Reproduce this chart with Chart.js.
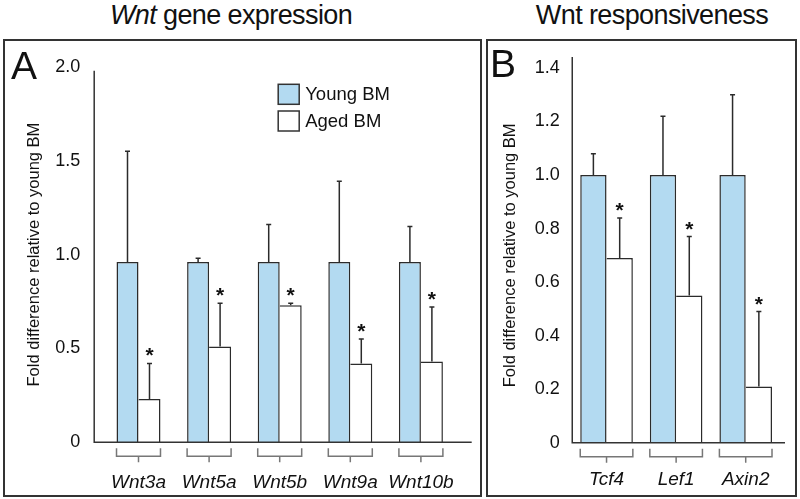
<!DOCTYPE html>
<html>
<head>
<meta charset="utf-8">
<script src="https://cdn.jsdelivr.net/npm/chart.js@4.4.0/dist/chart.umd.min.js"></script>
<style>
body { margin: 0; background: #fff; font-family: "Liberation Sans", Arial, sans-serif; }
#pagina { position: relative; width: 800px; height: 499px; overflow: hidden; }
.titulo { position: absolute; top: 2px; width: 300px; font-size: 27px; line-height: 27px; letter-spacing: -0.6px; color: #111; text-align: center; white-space: nowrap; }
.painel { position: absolute; top: 39px; height: 458px; border: 2px solid #333; box-sizing: border-box; }
.area { position: relative; height: 454px; }
.letra { position: absolute; font-size: 39px; line-height: 39px; color: #111; }
</style>
</head>
<body>
<div id="pagina">
  <div class="titulo" style="left:81px"><i>Wnt</i> gene expression</div>
  <div class="titulo" style="left:502px">Wnt responsiveness</div>
  <div class="painel" style="left:3px;width:479px"><div class="area" style="width:475px"><canvas id="graficoA"></canvas></div></div>
  <div class="painel" style="left:486px;width:311px"><div class="area" style="width:307px"><canvas id="graficoB"></canvas></div></div>
  <div class="letra" style="left:11px;top:46px">A</div>
  <div class="letra" style="left:490px;top:44px">B</div>
</div>
<script>
// painel A - expressao dos genes Wnt
const categoriasA = ['Wnt3a', 'Wnt5a', 'Wnt5b', 'Wnt9a', 'Wnt10b'];
const jovemA = [0.96, 0.96, 0.96, 0.96, 0.96];
const jovemErroA = [0.59, 0.02, 0.20, 0.43, 0.19];
const velhoA = [0.23, 0.51, 0.73, 0.42, 0.43];
const velhoErroA = [0.19, 0.23, 0.01, 0.13, 0.29];
const ticksA = [0, 0.5, 1.0, 1.5, 2.0];

// painel B - resposta a Wnt
const categoriasB = ['Tcf4', 'Lef1', 'Axin2'];
const jovemB = [1.0, 1.0, 1.0];
const jovemErroB = [0.08, 0.22, 0.30];
const velhoB = [0.69, 0.55, 0.21];
const velhoErroB = [0.15, 0.22, 0.28];
const ticksB = [0, 0.2, 0.4, 0.6, 0.8, 1.0, 1.2, 1.4];

const legendas = ['Young BM', 'Aged BM'];
const tituloEixo = 'Fold difference relative to young BM';

Chart.defaults.font.family = '"Liberation Sans", Arial, sans-serif';
Chart.defaults.color = '#111';

const corLinha = '#2b2b2b';
const azul = '#b3daf1';

const pluginDesenho = {
  id: 'desenho',
  afterDatasetsDraw(chart, args, opts) {
    const ctx = chart.ctx;
    const escalaY = chart.scales.y;
    const area = chart.chartArea;
    ctx.save();
    ctx.lineWidth = 1.5;
    ctx.strokeStyle = corLinha;

    // barras de erro e asteriscos
    chart.data.datasets.forEach((ds, i) => {
      const meta = chart.getDatasetMeta(i);
      meta.data.forEach((barra, j) => {
        const topo = escalaY.getPixelForValue(ds.data[j] + ds.erros[j]);
        ctx.beginPath();
        ctx.moveTo(barra.x, barra.y);
        ctx.lineTo(barra.x, topo);
        ctx.moveTo(barra.x - 2.5, topo);
        ctx.lineTo(barra.x + 2.5, topo);
        ctx.stroke();
        if (ds.asterisco) {
          ctx.fillStyle = '#111';
          ctx.font = 'bold 21px "Liberation Sans", Arial, sans-serif';
          ctx.textAlign = 'center';
          ctx.textBaseline = 'alphabetic';
          ctx.fillText('*', barra.x, topo - 1);
        }
      });
    });

    // eixos
    const e = opts.eixo;
    ctx.strokeStyle = '#333';
    ctx.beginPath();
    ctx.moveTo(area.left + e.esq, area.top + e.topo);
    ctx.lineTo(area.left + e.esq, area.bottom);
    ctx.lineTo(area.right + e.dir, area.bottom);
    ctx.stroke();

    // colchetes debaixo de cada grupo
    const m0 = chart.getDatasetMeta(0);
    const m1 = chart.getDatasetMeta(1);
    ctx.strokeStyle = '#777';
    m0.data.forEach((b0, j) => {
      const b1 = m1.data[j];
      const xe = b0.x - b0.width / 2;
      const xd = b1.x + b1.width / 2;
      const xm = (xe + xd) / 2;
      ctx.beginPath();
      ctx.moveTo(xe, area.bottom + 6);
      ctx.lineTo(xe, area.bottom + 14);
      ctx.lineTo(xd, area.bottom + 14);
      ctx.lineTo(xd, area.bottom + 6);
      ctx.moveTo(xm, area.bottom + 14);
      ctx.lineTo(xm, area.bottom + 20);
      ctx.stroke();
    });

    // legenda
    if (opts.legenda) {
      const lx = area.left + opts.legenda.x;
      let ly = area.top + opts.legenda.y;
      ctx.font = '18.5px "Liberation Sans", Arial, sans-serif';
      ctx.textAlign = 'left';
      ctx.textBaseline = 'middle';
      chart.data.datasets.forEach(ds => {
        ctx.fillStyle = ds.backgroundColor;
        ctx.fillRect(lx, ly, 21, 20);
        ctx.strokeStyle = '#333';
        ctx.strokeRect(lx, ly, 21, 20);
        ctx.fillStyle = '#111';
        ctx.fillText(ds.label, lx + 27, ly + 11);
        ly += 26.7;
      });
    }
    ctx.restore();
  }
};

function criarGrafico(id, categorias, jovem, jovemErro, velho, velhoErro, ticks, cfg) {
  return new Chart(document.getElementById(id), {
    type: 'bar',
    data: {
      labels: categorias,
      datasets: [{
        label: legendas[0],
        data: jovem,
        erros: jovemErro,
        backgroundColor: azul,
        borderColor: corLinha,
        borderWidth: { top: 1.5, left: 1.5, right: 1.5, bottom: 0 }
      }, {
        label: legendas[1],
        data: velho,
        erros: velhoErro,
        asterisco: true,
        backgroundColor: '#ffffff',
        borderColor: corLinha,
        borderWidth: { top: 1.5, left: 0, right: 1.5, bottom: 0 }
      }]
    },
    options: {
      responsive: true,
      maintainAspectRatio: false,
      animation: false,
      categoryPercentage: cfg.categoria,
      barPercentage: 1.0,
      layout: { padding: { top: cfg.topo, right: cfg.direita, left: 0, bottom: 0 } },
      scales: {
        x: {
          grid: { display: false },
          border: { display: false },
          ticks: { font: { size: 19, style: 'italic' }, padding: cfg.paddingX, maxRotation: 0, autoSkip: false, color: '#111' },
          afterFit: s => { s.height = cfg.alturaX; }
        },
        y: {
          min: 0,
          max: ticks[ticks.length - 1],
          grid: { display: false },
          border: { display: false },
          afterBuildTicks: s => { s.ticks = ticks.map(v => ({ value: v })); },
          ticks: {
            font: { size: 18 },
            padding: cfg.paddingTick,
            color: '#111',
            callback: v => v === 0 ? '0' : v.toFixed(1)
          },
          title: {
            display: true,
            text: tituloEixo,
            font: { size: 16.5 },
            color: '#111',
            padding: { top: cfg.paddingTitulo, bottom: 0 }
          },
          afterFit: s => { s.width = cfg.larguraY; }
        }
      },
      plugins: {
        legend: { display: false },
        tooltip: { enabled: false },
        desenho: { eixo: cfg.eixo, legenda: cfg.legenda }
      }
    },
    plugins: [pluginDesenho]
  });
}

criarGrafico('graficoA', categoriasA, jovemA, jovemErroA, velhoA, velhoErroA, ticksA, {
  categoria: 0.623, topo: 17.5, direita: 23.8, alturaX: 52.7, larguraY: 98.2,
  paddingTick: 15, paddingTitulo: 20, paddingX: 21, eixo: { esq: -9, dir: 15.5, topo: 4 },
  legenda: { x: 175, y: 17.5 }
});

criarGrafico('graficoB', categoriasB, jovemB, jovemErroB, velhoB, velhoErroB, ticksB, {
  categoria: 0.756, topo: 27, direita: 14.5, alturaX: 52.3, larguraY: 83.75,
  paddingTick: 4, paddingTitulo: 13, paddingX: 18, eixo: { esq: 0.5, dir: 4.5, topo: -11 },
  legenda: null
});
</script>
</body>
</html>
